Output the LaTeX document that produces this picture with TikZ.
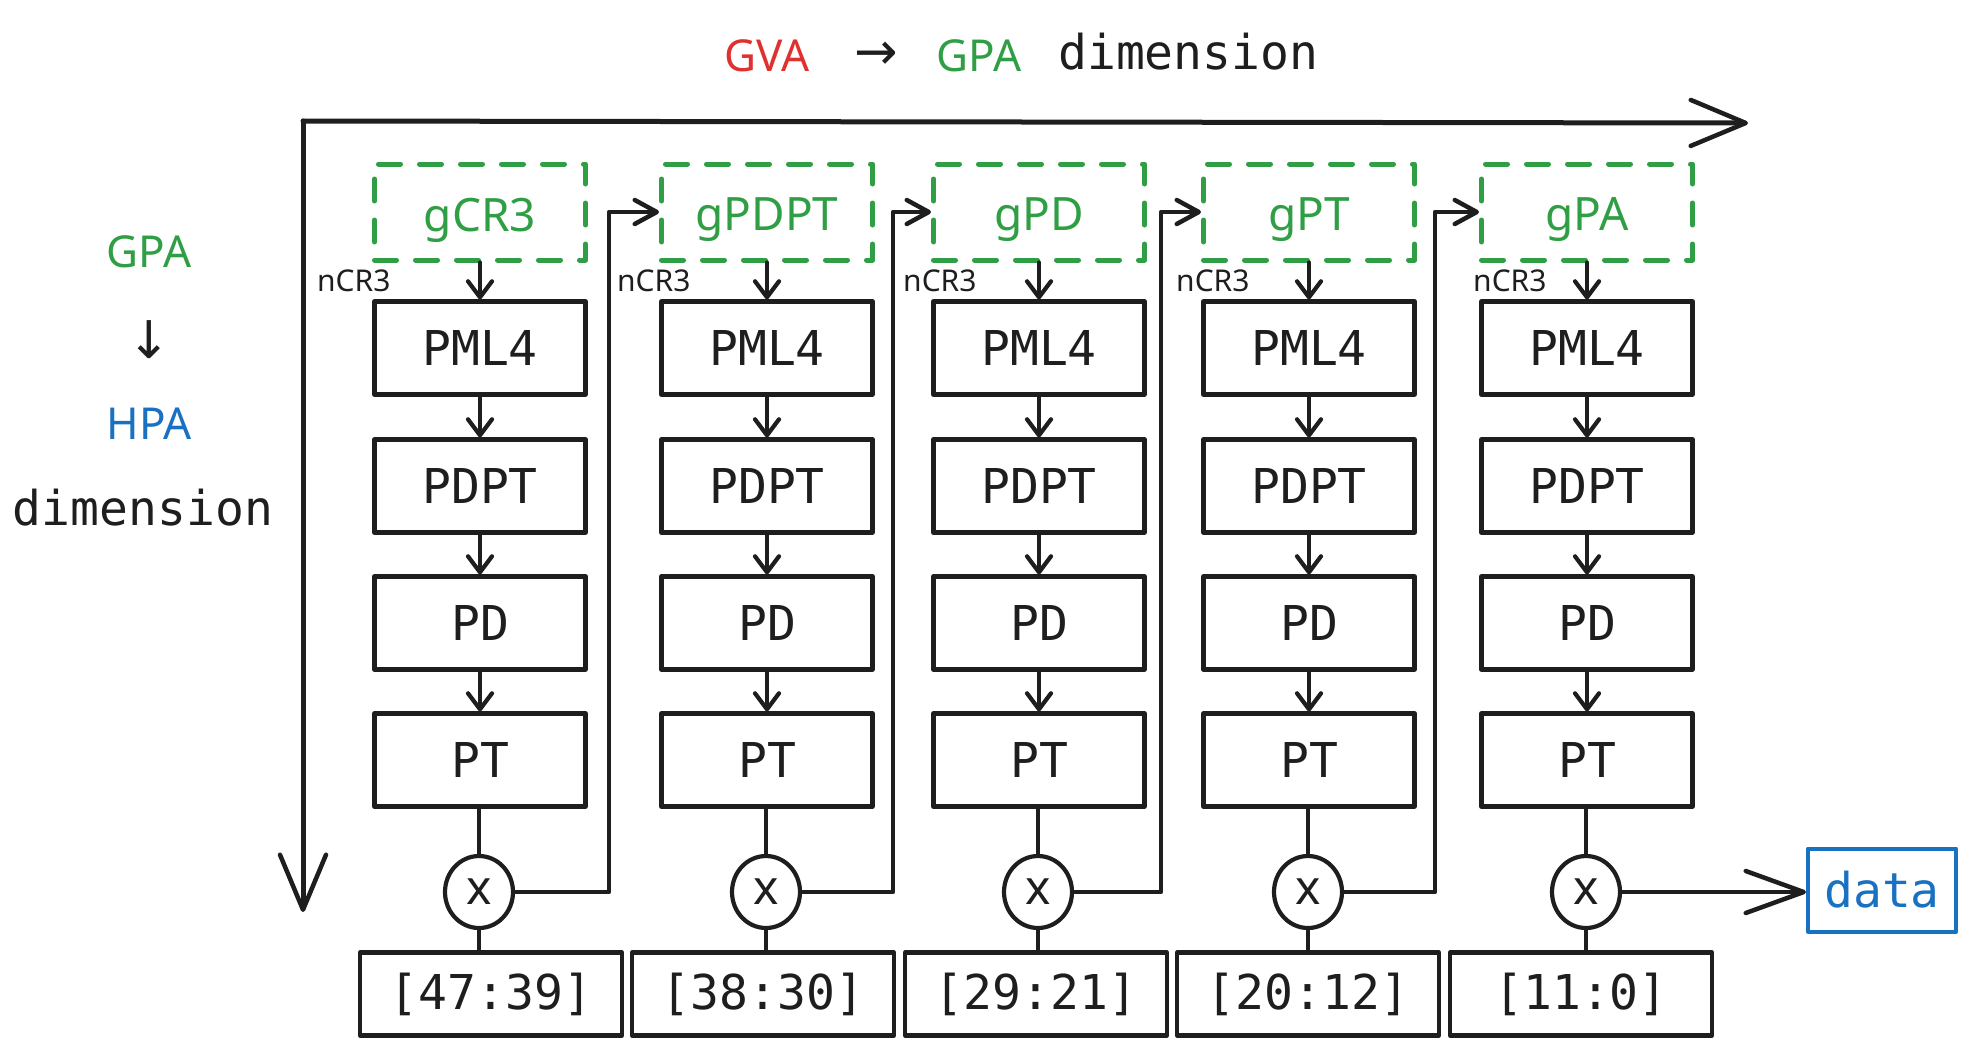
\documentclass[tikz,border=0pt]{standalone}
\usepackage{fontspec}
\setmainfont{Noto Sans}
\setmonofont{DejaVu Sans Mono}
\newfontfamily\symfont{DejaVu Sans}
\usetikzlibrary{arrows.meta,shapes.geometric,calc}
\definecolor{ink}{HTML}{1E1E1E}
\definecolor{grn}{HTML}{2F9E44}
\definecolor{rd}{HTML}{E03131}
\definecolor{blu}{HTML}{1971C2}
\begin{document}
\begin{tikzpicture}[x=1pt,y=-1pt, line join=round, line cap=round,
 tbl/.style={draw=ink, line width=4.2pt, minimum width=211pt, minimum height=93pt, inner sep=0pt, font=\ttfamily\fontsize{48}{54}\selectfont, text=ink},
 bits/.style={tbl, minimum width=262pt, minimum height=83pt},
 gbox/.style={draw=grn, line width=5pt, dash pattern=on 22pt off 19pt, minimum width=211pt, minimum height=96pt, inner sep=0pt},
 gtxt/.style={font=\fontsize{46}{50}\selectfont, text=grn, inner sep=0pt, yshift=-8pt},
 mul/.style={ellipse, draw=ink, line width=4.2pt, fill=white, minimum width=68pt, minimum height=72pt, inner sep=0pt, font=\fontsize{48}{50}\selectfont, text=ink},
 lbl/.style={font=\fontsize{30}{32}\selectfont, text=ink, inner sep=0pt},
 sanslbl/.style={font=\fontsize{44}{50}\selectfont, inner sep=0pt},
 monolbl/.style={font=\ttfamily\fontsize{48}{54}\selectfont, inner sep=0pt, text=ink},
 symlbl/.style={font=\symfont\fontsize{52}{54}\selectfont, inner sep=0pt, text=ink},
 wire/.style={draw=ink, line width=4.2pt},
 arr/.style={wire, -{Straight Barb[length=16pt, width=24pt, line width=4.2pt, round]}},
 larr/.style={wire, -{Straight Barb[length=22pt, width=24pt, line width=4.5pt, round]}},
 bigarr/.style={draw=ink, line width=5pt, -{Straight Barb[length=55pt, width=46pt, line width=4.5pt, round]}},
 dataarr/.style={wire, -{Straight Barb[length=58pt, width=42pt, line width=4.5pt, round]}}
]
\useasboundingbox (0,0) rectangle (1981,1053);

% title
\node[sanslbl, text=rd] (tgva) at (767,56) {GVA};
\node[symlbl] (tarr) at (876,56) {→};
\node[sanslbl, text=grn] (tgpa) at (979,56) {GPA};
\node[monolbl, anchor=west] (tdim) at (1058,52) {dimension};

% left label
\node[sanslbl, text=grn] (lgpa) at (149,252) {GPA};
\node[symlbl] (larrow) at (149,340) {↓};
\node[sanslbl, text=blu] (lhpa) at (149,424) {HPA};
\node[monolbl] (ldim) at (143,508) {dimension};

% axes
\coordinate (o) at (303,121);
\coordinate (xend) at (1748,123);
\coordinate (yend) at (303,912);
\draw[bigarr] (o) -- (xend);
\draw[bigarr] (o) -- (yend);

% columns
\foreach \i/\x/\g/\bx/\bt/\nx in {1/480/gCR3/491/{[47:39]}/317,2/767/gPDPT/763/{[38:30]}/617,3/1039/gPD/1036/{[29:21]}/903,4/1309/gPT/1308/{[20:12]}/1176,5/1587/gPA/1581/{[11:0]}/1473}{
  \node[gbox, label={[gtxt]center:\g}] (g\i) at (\x,212) {};
  \node[tbl] (a\i) at (\x,348) {PML4};
  \node[tbl] (b\i) at (\x,486) {PDPT};
  \node[tbl] (d\i) at (\x,623) {PD};
  \node[tbl] (t\i) at (\x,760) {PT};
  \node[mul] (c\i) at (\x-1,892) {x};
  \node[bits] (r\i) at (\bx,994) {\bt};
  \node[lbl, anchor=west] (n\i) at (\nx,281) {nCR3};
  \draw[arr] (g\i.south) -- (a\i.north);
  \draw[arr] (a\i.south) -- (b\i.north);
  \draw[arr] (b\i.south) -- (d\i.north);
  \draw[arr] (d\i.south) -- (t\i.north);
  \draw[wire] (t\i.south -| c\i.north) -- (c\i.north);
  \draw[wire] (c\i.south) -- (c\i.south |- r\i.north);
}

% chain connectors
\draw[larr] (c1.east) -| ([xshift=-50pt]g2.west) -- (g2.west);
\draw[larr] (c2.east) -| ([xshift=-38pt]g3.west) -- (g3.west);
\draw[larr] (c3.east) -| ([xshift=-40pt]g4.west) -- (g4.west);
\draw[larr] (c4.east) -| ([xshift=-44pt]g5.west) -- (g5.west);

% data
\node[draw=blu, line width=4pt, minimum width=148pt, minimum height=83pt, inner sep=0pt, font=\ttfamily\fontsize{48}{54}\selectfont, text=blu] (data) at (1882,890) {data};
\draw[dataarr] (c5.east) -- (c5.east -| data.west);
\end{tikzpicture}
\end{document}
